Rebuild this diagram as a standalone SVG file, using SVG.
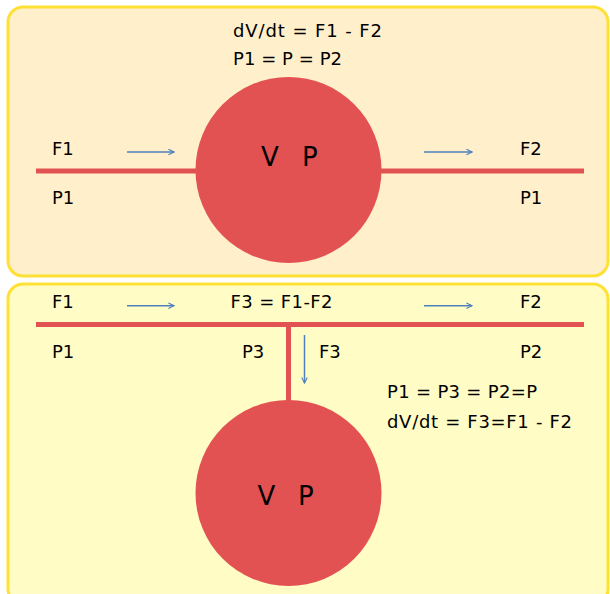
<svg xmlns="http://www.w3.org/2000/svg" width="610" height="594" viewBox="0 0 610 594">
<style>
.panel{stroke:#FFE135;stroke-width:3}
.pipe{stroke:#E35252;stroke-width:5;fill:none}
.vessel{fill:#E35252}
.flow{stroke:#4F81BD;stroke-width:1.5;fill:none}
text{font-family:"DejaVu Sans","Liberation Sans",Arial,sans-serif;font-size:18px;fill:#000}
.big{font-size:26px}
</style>
<defs>
<marker id="ah" viewBox="0 0 10 10" refX="9" refY="5" markerWidth="7" markerHeight="7" markerUnits="userSpaceOnUse" orient="auto">
<path d="M1,1 L9,5 L1,9" fill="none" stroke="#4F81BD" stroke-width="1.6"/>
</marker>
</defs>
<g id="panel-top">
<rect class="panel" x="8" y="7" width="600" height="269" rx="15" fill="#FFEFCB"/>
</g>
<g id="panel-bottom">
<rect class="panel" x="8" y="284" width="600" height="320" rx="15" fill="#FFFCC5"/>
</g>
<g id="connectors">
<line class="pipe" x1="36" y1="171" x2="584" y2="171"/>
<line class="pipe" x1="36" y1="324.5" x2="584" y2="324.5"/>
<line class="pipe" x1="288.5" y1="324" x2="288.5" y2="402"/>
<line class="flow" x1="127" y1="152" x2="174" y2="152" marker-end="url(#ah)"/>
<line class="flow" x1="424" y1="152" x2="472" y2="152" marker-end="url(#ah)"/>
<line class="flow" x1="127" y1="305.7" x2="174" y2="305.7" marker-end="url(#ah)"/>
<line class="flow" x1="424" y1="305.7" x2="472" y2="305.7" marker-end="url(#ah)"/>
<line class="flow" x1="304.5" y1="335" x2="304.5" y2="383" marker-end="url(#ah)"/>
</g>
<g id="vessel-top">
<circle class="vessel" cx="288.5" cy="170" r="93"/>
<text class="big" y="166"><tspan x="261">V </tspan><tspan x="302">P</tspan></text>
</g>
<g id="vessel-bottom">
<circle class="vessel" cx="288.5" cy="493" r="93"/>
<text class="big" y="505"><tspan x="257.5">V </tspan><tspan x="298">P</tspan></text>
</g>
<g id="labels-top">
<text x="233" y="36.7" textLength="149" lengthAdjust="spacing">dV/dt = F1 - F2</text>
<text x="233" y="65" textLength="109" lengthAdjust="spacing">P1 = P = P2</text>
<text x="52" y="155">F1</text>
<text x="52" y="203.5">P1</text>
<text x="520" y="155">F2</text>
<text x="520" y="203.5">P1</text>
</g>
<g id="labels-bottom">
<text x="52" y="308.3">F1</text>
<text x="230.5" y="308.3" textLength="102" lengthAdjust="spacing">F3 = F1-F2</text>
<text x="520" y="308.3">F2</text>
<text x="52" y="357.5">P1</text>
<text x="242" y="357.5">P3</text>
<text x="319" y="357.5">F3</text>
<text x="520" y="357.5">P2</text>
<text x="387" y="398" textLength="150" lengthAdjust="spacing">P1 = P3 = P2=P</text>
<text x="387" y="427.5" textLength="185" lengthAdjust="spacing">dV/dt = F3=F1 - F2</text>
</g>
</svg>
